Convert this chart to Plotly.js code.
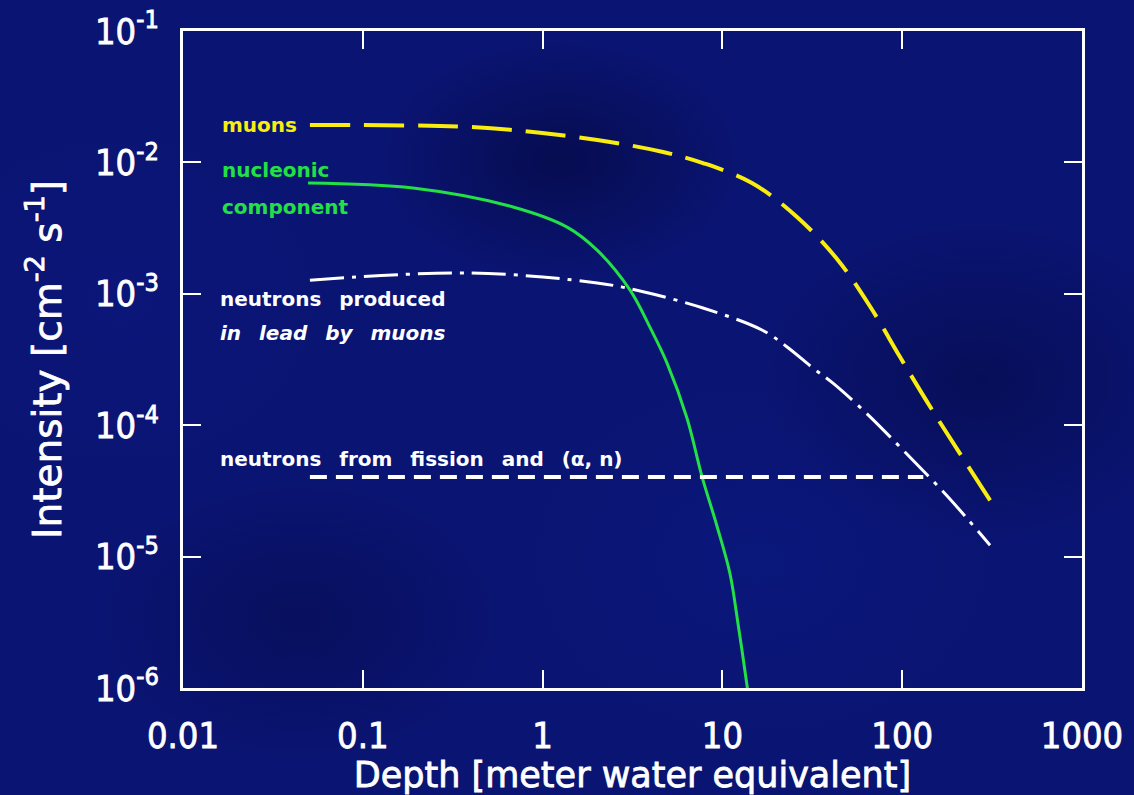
<!DOCTYPE html>
<html>
<head>
<meta charset="utf-8">
<script src="https://cdn.plot.ly/plotly-3.0.1.min.js"></script>
<style>
  html, body { margin: 0; padding: 0; }
  body {
    width: 1134px; height: 795px; overflow: hidden;
    background-color: #0a1472;
    background-image:
      radial-gradient(ellipse 180px 120px at 560px 160px, rgba(0,0,30,0.4), rgba(0,0,30,0)),
      radial-gradient(ellipse 200px 140px at 300px 620px, rgba(0,0,30,0.25), rgba(0,0,30,0)),
      radial-gradient(ellipse 220px 160px at 980px 380px, rgba(0,0,30,0.3), rgba(0,0,30,0)),
      radial-gradient(ellipse 260px 200px at 760px 560px, rgba(10,30,140,0.35), rgba(10,30,140,0)),
      radial-gradient(ellipse 240px 200px at 120px 300px, rgba(10,25,130,0.4), rgba(10,25,130,0));
  }
  #chart { width: 1134px; height: 795px; }
  .xtick text, .ytick text, .g-xtitle text, .g-ytitle text {
    stroke: #ffffff; stroke-width: 0.8px;
  }
</style>
</head>
<body>
<div id="chart"></div>
<script>
// ---- data ----
const muonDepth = [0.0508, 0.394, 0.968, 2.37, 4.68, 7.80, 14.6, 26.0, 43.4, 67.1, 97.3, 146.6, 315];
const muonIntensity = [0.0193, 0.0186, 0.0168, 0.0143, 0.0120, 0.00989, 0.00697, 0.00384, 0.00184, 0.00078, 0.00033, 0.000131, 0.0000256];

const nucleonDepth = [0.0496, 0.190, 0.684, 1.368, 2.01, 3.06, 3.95, 4.92, 6.35, 7.71, 9.29, 11.0, 12.25, 13.7, 13.9];
const nucleonIntensity = [0.00697, 0.00638, 0.00458, 0.00322, 0.00215, 0.00107, 0.000558, 0.000297, 0.0001135, 0.0000404, 0.0000174, 0.0000075, 0.0000030, 0.00000105, 0.00000089];

const leadNeutronDepth = [0.0508, 0.394, 2.01, 3.48, 7.80, 16.6, 22.9, 31.9, 41.2, 64.6, 101, 180, 308];
const leadNeutronIntensity = [0.00127, 0.00144, 0.00121, 0.00105, 0.00078, 0.00053, 0.000394, 0.000272, 0.000209, 0.00012, 0.0000647, 0.0000284, 0.0000122];

const fissionDepth = [0.0508, 131];
const fissionIntensity = [0.0000404, 0.0000404];

const xTickVals = [0.01, 0.1, 1, 10, 100, 1000];
const xTickText = ['0.01', '0.1', '1', '10', '100', '1000'];
const yTickVals = [1e-1, 1e-2, 1e-3, 1e-4, 1e-5, 1e-6];
const yTickText = ['10<sup>-1</sup>', '10<sup>-2</sup>', '10<sup>-3</sup>', '10<sup>-4</sup>', '10<sup>-5</sup>', '10<sup>-6</sup>'];

const seriesLabels = ['muons', 'nucleonic component', 'neutrons produced in lead by muons', 'neutrons from fission and (α, n)'];

// ---- styles ----
const YELLOW = '#f8ec10';
const GREEN = '#22e046';
const WHITE = '#ffffff';
const AX_FONT = 'Liberation Sans Narrow, DejaVu Sans Condensed, Liberation Sans, Arial, sans-serif';
const TITLE_FONT = 'DejaVu Sans, Verdana, sans-serif';
const LBL_FONT = 'DejaVu Sans, Verdana, sans-serif';

const traces = [
  { x: muonDepth, y: muonIntensity, name: seriesLabels[0], mode: 'lines',
    line: { color: YELLOW, width: 4, dash: '40px,14px', shape: 'spline', smoothing: 1 } },
  { x: nucleonDepth, y: nucleonIntensity, name: seriesLabels[1], mode: 'lines',
    line: { color: GREEN, width: 3, shape: 'spline', smoothing: 1 } },
  { x: leadNeutronDepth, y: leadNeutronIntensity, name: seriesLabels[2], mode: 'lines',
    line: { color: WHITE, width: 3, dash: '34px,8px,4px,8px', shape: 'spline', smoothing: 1 } },
  { x: fissionDepth, y: fissionIntensity, name: seriesLabels[3], mode: 'lines',
    line: { color: WHITE, width: 4, dash: '17px,9px' } }
];

const GAP = '\u00a0\u00a0\u2009';
function label(text, px, py, color, italic) {
  const t = text.replace(', ', ',\u00a0').split(' ').join(GAP);
  return {
    xref: 'paper', yref: 'paper',
    x: (px - 183) / 899, y: (688 - py) / 657,
    xanchor: 'left', yanchor: 'middle', showarrow: false,
    text: italic ? '<b><i>' + t + '</i></b>' : '<b>' + t + '</b>',
    font: { family: LBL_FONT, size: 20, color: color }
  };
}

const layout = {
  width: 1134, height: 795,
  paper_bgcolor: 'rgba(0,0,0,0)', plot_bgcolor: 'rgba(0,0,0,0)',
  margin: { l: 183, r: 52, t: 31, b: 107 },
  showlegend: false,
  font: { family: AX_FONT, color: WHITE },
  xaxis: {
    type: 'log', range: [-2, 3],
    tickvals: xTickVals, ticktext: xTickText,
    showgrid: false, zeroline: false,
    showline: true, linecolor: WHITE, linewidth: 3, mirror: 'ticks',
    ticks: 'inside', ticklen: 18, tickwidth: 2, tickcolor: WHITE,
    ticklabelstandoff: 14,
    tickfont: { family: AX_FONT, size: 36, color: WHITE },
    title: { text: 'Depth [meter water equivalent]', standoff: 4,
             font: { family: TITLE_FONT, size: 35, color: WHITE } }
  },
  yaxis: {
    type: 'log', range: [-6, -1],
    tickvals: yTickVals, ticktext: yTickText,
    showgrid: false, zeroline: false,
    showline: true, linecolor: WHITE, linewidth: 3, mirror: 'ticks',
    ticks: 'inside', ticklen: 18, tickwidth: 2, tickcolor: WHITE,
    ticklabelstandoff: 14,
    tickfont: { family: AX_FONT, size: 36, color: WHITE },
    title: { text: 'Intensity [cm<sup>-2</sup> s<sup>-1</sup>]', standoff: 22,
             font: { family: TITLE_FONT, size: 39, color: WHITE } }
  },
  annotations: [
    label('muons', 220, 125, YELLOW),
    label('nucleonic', 220, 170, GREEN),
    label('component', 220, 207, GREEN),
    label('neutrons produced', 218, 299, WHITE),
    label('in lead by muons', 218, 333, WHITE, true),
    label('neutrons from fission and (α, n)', 218, 459, WHITE)
  ]
};

Plotly.newPlot('chart', traces, layout, { staticPlot: true, displayModeBar: false });
</script>
</body>
</html>
